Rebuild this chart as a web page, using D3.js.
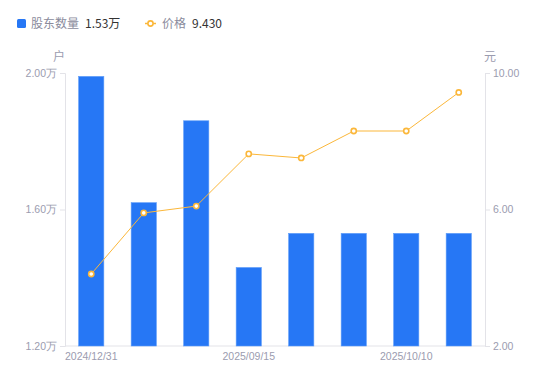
<!DOCTYPE html>
<html>
<head>
<meta charset="utf-8">
<script src="https://cdn.jsdelivr.net/npm/d3@7/dist/d3.min.js"></script>
<style>
  body { margin: 0; background: #fff; }
  svg { font-family: "Noto Sans CJK SC", "Liberation Sans", sans-serif; }
</style>
</head>
<body>
<div id="chart"></div>
<script>
var width = 550,
    height = 381;

// data
var dates = ['2024/12/31', '2025/03/31', '2025/06/30', '2025/09/15', '2025/09/19', '2025/09/30', '2025/10/10', '2025/10/20'];
var holders = [1.99, 1.62, 1.86, 1.43, 1.53, 1.53, 1.53, 1.53];   // 万户
var prices = [4.11, 5.90, 6.10, 7.63, 7.51, 8.30, 8.30, 9.43];
var holderTicks = [1.20, 1.60, 2.00];
var priceTicks = [2.00, 6.00, 10.00];
var shownDates = ['2024/12/31', '2025/09/15', '2025/10/10'];

var blue = '#2677f5',
    orange = '#fbb73a',
    axisColor = '#e3e3e8',
    labelColor = '#9b9caf';

var margin = {top: 73, right: 65, bottom: 35, left: 65};

var svg = d3.select('#chart').append('svg')
    .attr('width', width)
    .attr('height', height);

var x = d3.scaleBand()
    .domain(dates)
    .range([margin.left, width - margin.right])
    .paddingInner(0.52)
    .paddingOuter(0.26);

var yLeft = d3.scaleLinear()
    .domain([1.20, 2.00])
    .range([height - margin.bottom, margin.top]);

var yRight = d3.scaleLinear()
    .domain([2.00, 10.00])
    .range([height - margin.bottom, margin.top]);

// legend
var legend = svg.append('g').attr('font-size', 12);
legend.append('rect')
    .attr('x', 17).attr('y', 19).attr('width', 9).attr('height', 9)
    .attr('rx', 1.5).attr('fill', blue);
legend.append('text').attr('x', 31).attr('y', 28).attr('fill', '#8a8b9c').text('股东数量');
legend.append('text').attr('x', 85).attr('y', 28).attr('fill', '#333').text(d3.format('.2f')(holders[holders.length - 1]) + '万');
legend.append('line')
    .attr('x1', 145).attr('x2', 156).attr('y1', 23.5).attr('y2', 23.5)
    .attr('stroke', orange).attr('stroke-width', 1.5);
legend.append('circle')
    .attr('cx', 150.5).attr('cy', 23.5).attr('r', 2.6)
    .attr('fill', '#fff').attr('stroke', orange).attr('stroke-width', 1.6);
legend.append('text').attr('x', 162).attr('y', 28).attr('fill', '#8a8b9c').text('价格');
legend.append('text').attr('x', 192).attr('y', 28).attr('fill', '#333').text(d3.format('.3f')(prices[prices.length - 1]));

// unit labels
svg.append('text').attr('x', 59).attr('y', 61).attr('text-anchor', 'middle')
    .attr('font-size', 12).attr('fill', labelColor).text('户');
svg.append('text').attr('x', 490).attr('y', 61).attr('text-anchor', 'middle')
    .attr('font-size', 12).attr('fill', labelColor).text('元');

// axes
var leftAxis = d3.axisLeft(yLeft)
    .tickValues(holderTicks)
    .tickSize(5)
    .tickPadding(3)
    .tickFormat(function(d) { return d3.format('.2f')(d) + '万'; });

var rightAxis = d3.axisRight(yRight)
    .tickValues(priceTicks)
    .tickSize(5)
    .tickPadding(3)
    .tickFormat(d3.format('.2f'));

var bottomAxis = d3.axisBottom(x)
    .tickValues(shownDates)
    .tickSize(0)
    .tickPadding(7);

function styleAxis(g) {
    g.attr('font-size', 10.5).attr('font-family', '"Liberation Sans", Arial, sans-serif');
    g.select('.domain').attr('stroke', axisColor);
    g.selectAll('.tick line').attr('stroke', axisColor);
    g.selectAll('.tick text').attr('fill', labelColor);
}

svg.append('g')
    .attr('transform', 'translate(' + margin.left + ',0)')
    .call(leftAxis)
    .call(styleAxis);

svg.append('g')
    .attr('transform', 'translate(' + (width - margin.right) + ',0)')
    .call(rightAxis)
    .call(styleAxis);

var xg = svg.append('g')
    .attr('transform', 'translate(0,' + (height - margin.bottom) + ')')
    .call(bottomAxis)
    .call(styleAxis);
xg.select('.domain').remove();
xg.append('line')
    .attr('x1', margin.left).attr('x2', width - margin.right)
    .attr('stroke', axisColor);

// bars
svg.selectAll('.bar')
    .data(holders)
    .enter().append('rect')
    .attr('class', 'bar')
    .attr('x', function(d, i) { return x(dates[i]); })
    .attr('y', function(d) { return yLeft(d); })
    .attr('width', x.bandwidth())
    .attr('height', function(d) { return yLeft(1.20) - yLeft(d); })
    .attr('fill', blue)
    .attr('stroke', '#5c9bf8')
    .attr('stroke-width', 0.6);

// price line
var line = d3.line()
    .x(function(d, i) { return x(dates[i]) + x.bandwidth() / 2; })
    .y(function(d) { return yRight(d); });

svg.append('path')
    .datum(prices)
    .attr('d', line)
    .attr('fill', 'none')
    .attr('stroke', orange)
    .attr('stroke-width', 1);

svg.selectAll('.pt')
    .data(prices)
    .enter().append('circle')
    .attr('class', 'pt')
    .attr('cx', function(d, i) { return x(dates[i]) + x.bandwidth() / 2; })
    .attr('cy', function(d) { return yRight(d); })
    .attr('r', 2.6)
    .attr('fill', '#fff')
    .attr('stroke', orange)
    .attr('stroke-width', 1.6);
</script>
</body>
</html>
